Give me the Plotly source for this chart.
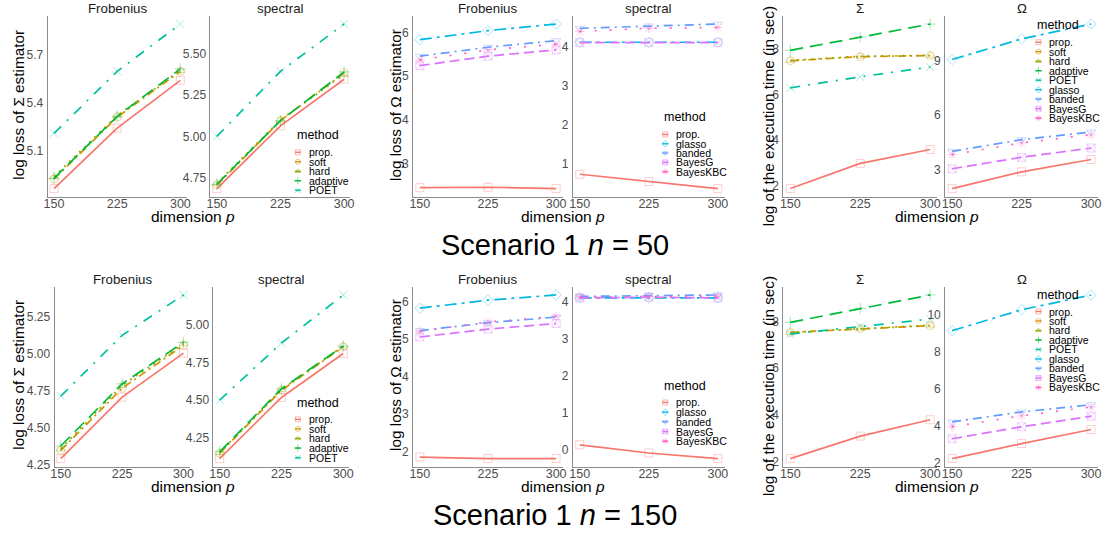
import plotly.graph_objects as go

W, H = 1107, 540
FONT = "Liberation Sans"

p_vals = [150, 225, 300]
methods = ["prop.", "soft", "hard", "adaptive", "POET",
           "glasso", "banded", "BayesG", "BayesKBC"]
sigma_methods = ["prop.", "soft", "hard", "adaptive", "POET"]
omega_methods = ["prop.", "glasso", "banded", "BayesG", "BayesKBC"]

colors = {"prop.": "#F8766D", "soft": "#D39200", "hard": "#93AA00",
          "adaptive": "#00BA38", "POET": "#00C19F", "glasso": "#00B9E3",
          "banded": "#619CFF", "BayesG": "#DB72FB", "BayesKBC": "#FF61C3"}
dashes = {"prop.": "solid", "soft": "8px,4px,2px,4px", "hard": "2px,5px",
          "adaptive": "13px,7px", "POET": "10px,8px,2px,8px",
          "glasso": "12px,5px,3px,5px", "banded": "9px,5px,2px,5px",
          "BayesG": "10px,5px", "BayesKBC": "2px,13px"}
symbols = {"prop.": "square-open", "soft": "circle-open",
           "hard": "triangle-up-open", "adaptive": "cross-thin-open",
           "POET": "x-thin-open", "glasso": "diamond-open",
           "banded": "triangle-down-open", "BayesG": "square-x-open",
           "BayesKBC": "asterisk-open"}

# ---------------- Scenario 1, n = 50 ----------------
sig_frob_50 = {"prop.": [4.866, 5.242, 5.539], "soft": [4.925, 5.31, 5.595],
               "hard": [4.94, 5.32, 5.60], "adaptive": [4.93, 5.315, 5.61],
               "POET": [5.209, 5.595, 5.889]}
sig_spec_50 = {"prop.": [4.684, 5.064, 5.346], "soft": [4.705, 5.095, 5.385],
               "hard": [4.715, 5.10, 5.375], "adaptive": [4.71, 5.095, 5.39],
               "POET": [5.00, 5.394, 5.68]}
om_frob_50 = {"prop.": [2.45, 2.46, 2.43], "glasso": [5.834, 6.04, 6.19],
              "banded": [5.455, 5.66, 5.81], "BayesG": [5.24, 5.455, 5.60],
              "BayesKBC": [5.37, 5.60, 5.73]}
om_spec_50 = {"prop.": [0.72, 0.53, 0.35], "glasso": [4.13, 4.13, 4.13],
              "banded": [4.49, 4.55, 4.60], "BayesG": [4.12, 4.12, 4.12],
              "BayesKBC": [4.41, 4.49, 4.51]}
time_sig_50 = {"prop.": [1.88, 2.98, 3.59], "soft": [7.47, 7.65, 7.70],
               "hard": [7.49, 7.67, 7.71], "adaptive": [7.93, 8.51, 9.08],
               "POET": [6.29, 6.77, 7.20]}
time_om_50 = {"prop.": [1.95, 2.87, 3.55], "glasso": [9.05, 10.18, 11.0],
              "banded": [4.0, 4.64, 5.06], "BayesG": [3.04, 3.67, 4.18],
              "BayesKBC": [3.82, 4.46, 4.91]}

# ---------------- Scenario 1, n = 150 ----------------
sig_frob_150 = {"prop.": [4.295, 4.71, 5.007], "soft": [4.35, 4.77, 5.06],
                "hard": [4.36, 4.79, 5.07], "adaptive": [4.38, 4.80, 5.08],
                "POET": [4.717, 5.127, 5.40]}
sig_spec_150 = {"prop.": [4.11, 4.517, 4.81], "soft": [4.145, 4.565, 4.855],
                "hard": [4.15, 4.57, 4.86], "adaptive": [4.155, 4.575, 4.86],
                "POET": [4.50, 4.88, 5.20]}
om_frob_150 = {"prop.": [1.85, 1.81, 1.81], "glasso": [5.82, 6.03, 6.17],
               "banded": [5.22, 5.43, 5.58], "BayesG": [5.05, 5.26, 5.41],
               "BayesKBC": [5.20, 5.45, 5.60]}
om_spec_150 = {"prop.": [0.13, -0.09, -0.24], "glasso": [4.10, 4.10, 4.10],
               "banded": [4.14, 4.17, 4.18], "BayesG": [4.10, 4.12, 4.10],
               "BayesKBC": [4.12, 4.14, 4.15]}
time_sig_150 = {"prop.": [2.14, 3.10, 3.80], "soft": [7.53, 7.69, 7.82],
                "hard": [7.53, 7.69, 7.84], "adaptive": [7.96, 8.56, 9.13],
                "POET": [7.46, 7.79, 8.10]}
time_om_150 = {"prop.": [2.23, 3.04, 3.80], "glasso": [9.14, 10.27, 11.07],
               "banded": [4.21, 4.75, 5.14], "BayesG": [3.30, 3.95, 4.52],
               "BayesKBC": [3.95, 4.54, 5.02]}

# tick labels per panel
ticks_sig_frob_50 = [5.1, 5.4, 5.7]
ticks_sig_spec_50 = [4.75, 5.00, 5.25, 5.50]
ticks_om_frob_50 = [3, 4, 5, 6]
ticks_om_spec_50 = [1, 2, 3, 4]
ticks_time_sig_50 = [2, 4, 6, 8]
ticks_time_om_50 = [3, 6, 9]
ticks_sig_frob_150 = [4.25, 4.50, 4.75, 5.00, 5.25]
ticks_sig_spec_150 = [4.25, 4.50, 4.75, 5.00]
ticks_om_frob_150 = [2, 3, 4, 5, 6]
ticks_om_spec_150 = [0, 1, 2, 3, 4]
ticks_time_sig_150 = [2, 4, 6, 8]
ticks_time_om_150 = [2, 4, 6, 8, 10]

# ---------------- layout geometry (pixels) ----------------
top_y = (16, 199)
bot_y = (290, 472)
panels = [
    (sig_frob_50, (44, 184), top_y, ticks_sig_frob_50, ".1f", "Frobenius"),
    (sig_spec_50, (208, 349), top_y, ticks_sig_spec_50, ".2f", "spectral"),
    (om_frob_50, (412, 563), top_y, ticks_om_frob_50, "d", "Frobenius"),
    (om_spec_50, (573, 726), top_y, ticks_om_spec_50, "d", "spectral"),
    (time_sig_50, (785, 940), top_y, ticks_time_sig_50, "d", "Σ"),
    (time_om_50, (948, 1102), top_y, ticks_time_om_50, "d", "Ω"),
    (sig_frob_150, (51, 187), bot_y, ticks_sig_frob_150, ".2f", "Frobenius"),
    (sig_spec_150, (211, 348), bot_y, ticks_sig_spec_150, ".2f", "spectral"),
    (om_frob_150, (412, 563), bot_y, ticks_om_frob_150, "d", "Frobenius"),
    (om_spec_150, (573, 726), bot_y, ticks_om_spec_150, "d", "spectral"),
    (time_sig_150, (785, 940), bot_y, ticks_time_sig_150, "d", "Σ"),
    (time_om_150, (948, 1102), bot_y, ticks_time_om_150, "d", "Ω"),
]


def px_x(x):
    return x / W


def px_y(y):
    return 1 - y / H


fig = go.Figure()
layout = {}
annotations = []
AXIS_COLOR = "#8C8C8C"
TICK_COLOR = "#4D4D4D"

xpad = 0.05 * (p_vals[-1] - p_vals[0])
for i, (data, xb, yb, tv, fmt, strip) in enumerate(panels):
    k = i + 1
    xs = "x" if k == 1 else f"x{k}"
    ys = "y" if k == 1 else f"y{k}"
    allv = [v for vals in data.values() for v in vals]
    lo, hi = min(allv), max(allv)
    pad = 0.05 * (hi - lo)
    for m, vals in data.items():
        fig.add_trace(go.Scatter(
            x=p_vals, y=vals, mode="lines+markers", xaxis=xs, yaxis=ys,
            showlegend=False, name=m, cliponaxis=False,
            line=dict(color=colors[m], width=1.7, dash=dashes[m]),
            marker=dict(symbol=symbols[m], size=8, color=colors[m],
                        opacity=0.35, line=dict(width=1, color=colors[m])),
        ))
    layout["xaxis" if k == 1 else f"xaxis{k}"] = dict(
        domain=[px_x(xb[0]), px_x(xb[1])], anchor=ys,
        range=[p_vals[0] - xpad, p_vals[-1] + xpad],
        tickvals=p_vals, ticktext=[str(v) for v in p_vals],
        showline=True, linecolor=AXIS_COLOR, linewidth=1, showgrid=False,
        zeroline=False, ticks="", ticklabelstandoff=-5,
        tickfont=dict(family=FONT, size=12.5, color=TICK_COLOR), fixedrange=True)
    layout["yaxis" if k == 1 else f"yaxis{k}"] = dict(
        domain=[px_y(yb[1]), px_y(yb[0])], anchor=xs,
        range=[lo - pad, hi + pad], tickvals=tv, tickformat=fmt,
        showline=True, linecolor=AXIS_COLOR, linewidth=1, showgrid=False,
        zeroline=False, ticks="", ticklabelstandoff=1,
        tickfont=dict(family=FONT, size=12, color=TICK_COLOR), fixedrange=True)
    annotations.append(dict(
        text=strip, xref="paper", yref="paper",
        x=px_x((xb[0] + xb[1]) / 2), y=px_y(yb[0] - 7),
        xanchor="center", yanchor="middle", showarrow=False,
        font=dict(family=FONT, size=13.3, color="#1A1A1A")))

# group titles
ylabels = ["log loss of Σ estimator", "log loss of Ω estimator",
           "log of the execution time (in sec)"]
ylab_x = [15, 395, 770]
ylab_y = [106, 106, 117]
xlab_x = [190, 563, 940]
for row, yb in enumerate([top_y, bot_y]):
    shift = 0 if row == 0 else 273
    for g in range(3):
        annotations.append(dict(
            text=ylabels[g], xref="paper", yref="paper",
            x=px_x(ylab_x[g]), y=px_y(ylab_y[g] + shift),
            xanchor="center", yanchor="middle", textangle=-90,
            showarrow=False, font=dict(family=FONT, size=15.3, color="black")))
        annotations.append(dict(
            text="dimension <i>p</i>", xref="paper", yref="paper",
            x=px_x(xlab_x[g]), y=px_y(yb[1] + 20),
            xanchor="center", yanchor="middle", showarrow=False,
            font=dict(family=FONT, size=15.5, color="black")))

scenario_titles = ["Scenario 1 <i>n</i> = 50", "Scenario 1 <i>n</i> = 150"]
for t, yy in zip(scenario_titles, [248, 521]):
    annotations.append(dict(
        text=t, xref="paper", yref="paper", x=px_x(555), y=px_y(yy),
        xanchor="center", yanchor="middle", showarrow=False,
        font=dict(family=FONT, size=29, color="black")))

# ---------------- ggplot-like legends ----------------
legend_blocks = [
    (sigma_methods, 293, 137, 154, 9.6),
    (omega_methods, 663, 118, 136, 9.4),
    (methods, 1039, 25, 42.7, 9.6),
    (sigma_methods, 293, 408, 424, 9.7),
    (omega_methods, 663, 390, 407, 9.8),
    (methods, 1039, 298, 315, 9.6),
]
LX = "x13"
LY = "y13"
layout["xaxis13"] = dict(domain=[0, 1], range=[0, W], visible=False,
                         anchor="y13", fixedrange=True)
layout["yaxis13"] = dict(domain=[0, 1], range=[H, 0], visible=False,
                         anchor="x13", fixedrange=True)
for mlist, tx, ty, y0, step in legend_blocks:
    annotations.append(dict(
        text="method", xref="paper", yref="paper", x=px_x(tx), y=px_y(ty),
        xanchor="left", yanchor="middle", showarrow=False,
        font=dict(family=FONT, size=12.5, color="black")))
    sx = tx + 3
    for j, m in enumerate(mlist):
        cy = y0 + j * step
        fig.add_trace(go.Scatter(
            x=[sx - 3, sx, sx + 3], y=[cy, cy, cy], mode="lines+markers",
            xaxis=LX, yaxis=LY, showlegend=False, hoverinfo="skip",
            line=dict(color=colors[m], width=1.4),
            marker=dict(symbol=symbols[m], size=[0, 5, 0], color=colors[m],
                        opacity=0.5, line=dict(width=1, color=colors[m]))))
        annotations.append(dict(
            text=m, xref="paper", yref="paper", x=px_x(sx + 9), y=px_y(cy),
            xanchor="left", yanchor="middle", showarrow=False,
            font=dict(family=FONT, size=10.5, color="black")))

fig.update_layout(
    width=W, height=H, autosize=False,
    margin=dict(l=0, r=0, t=0, b=0, pad=0),
    paper_bgcolor="white", plot_bgcolor="rgba(0,0,0,0)",
    showlegend=False, annotations=annotations, **layout)

fig.write_html("out.html")
